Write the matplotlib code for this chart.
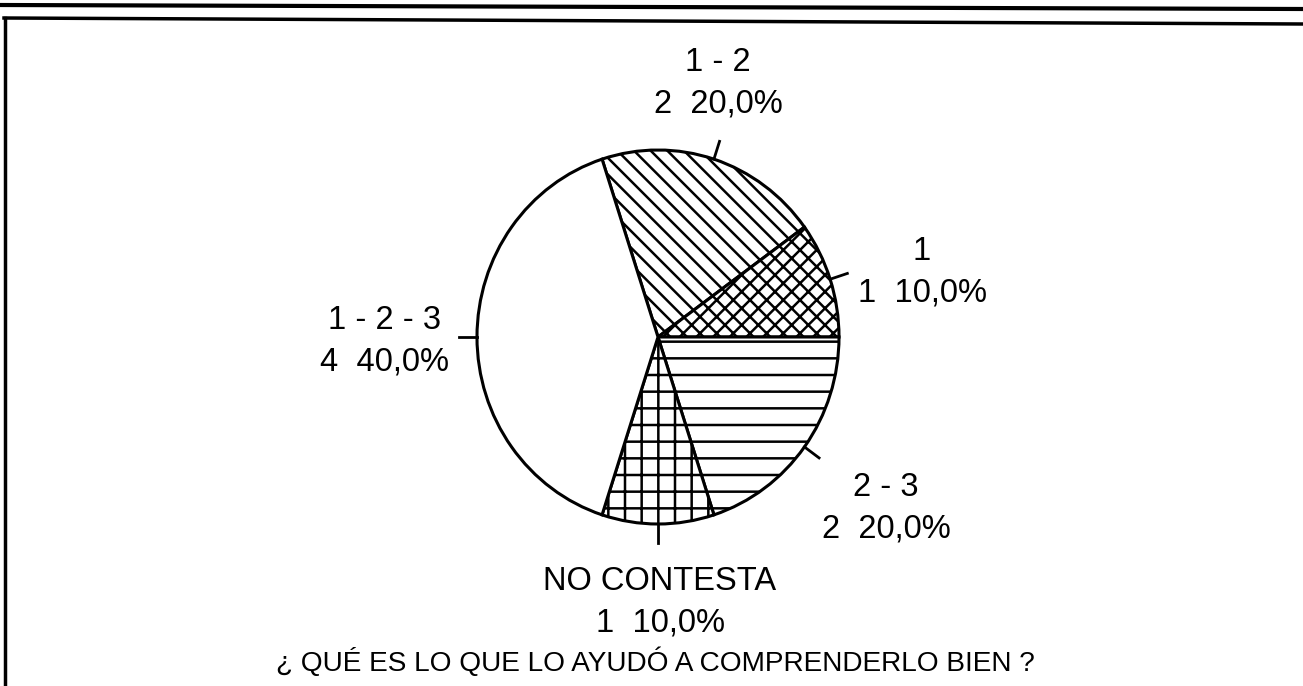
import numpy as np
import matplotlib.pyplot as plt

plt.rcParams['font.family'] = ['Liberation Sans', 'DejaVu Sans']
plt.rcParams['hatch.linewidth'] = 1.8
plt.rcParams['hatch.color'] = 'black'

# data, clockwise from the top
categories = ["1 - 2", "1", "2 - 3", "NO CONTESTA", "1 - 2 - 3"]
counts = [2, 1, 2, 1, 4]
hatches = ["\\\\", "xx", "-", "+", ""]
title = "¿ QUÉ ES LO QUE LO AYUDÓ A COMPRENDERLO BIEN ?"

W, H = 1303, 686
fig = plt.figure(figsize=(W / 100, H / 100), dpi=100)

# background axes in pixel coordinates for frame and texts
bg = fig.add_axes([0, 0, 1, 1])
bg.set_xlim(0, W)
bg.set_ylim(H, 0)
bg.axis('off')
bg.plot([0, W], [5, 9], color='black', lw=3)
bg.plot([4, W], [18, 24], color='black', lw=2.5)
bg.plot([5, 5], [18, H], color='black', lw=2.5)

# pie axes, slightly taller than wide like the scan
cx, cy, rx, ry = 658, 337, 181, 187
pax = fig.add_axes([(cx - rx) / W, 1 - (cy + ry) / H, 2 * rx / W, 2 * ry / H])
total = sum(counts)
wedges, _ = pax.pie(counts, startangle=108, counterclock=False,
                    colors=['white'] * len(counts),
                    wedgeprops=dict(edgecolor='black', linewidth=2.2))
for w, h in zip(wedges, hatches):
    w.set_hatch(h)
pax.set_aspect('auto')
pax.set_xlim(-1, 1)
pax.set_ylim(-1, 1)
pax.axis('off')

# leader ticks at mid angles
for w in wedges:
    a = np.deg2rad((w.theta1 + w.theta2) / 2)
    pax.plot([np.cos(a), 1.1 * np.cos(a)], [np.sin(a), 1.1 * np.sin(a)],
             color='black', lw=2, clip_on=False)

# label block centres (pixels)
label_pos = [(718, 83), (922, 272), (886, 508), (660, 602), (385, 341)]
for name, n, (x, y) in zip(categories, counts, label_pos):
    pct = f"{100 * n / total:.1f}%".replace('.', ',')
    bg.text(x, y, f"{name}\n{n}  {pct}", ha='center', va='center',
            fontsize=23.5, linespacing=1.45)

bg.text(655, 662, title, ha='center', va='center', fontsize=20.2)

fig.savefig('out.png', dpi=100)
